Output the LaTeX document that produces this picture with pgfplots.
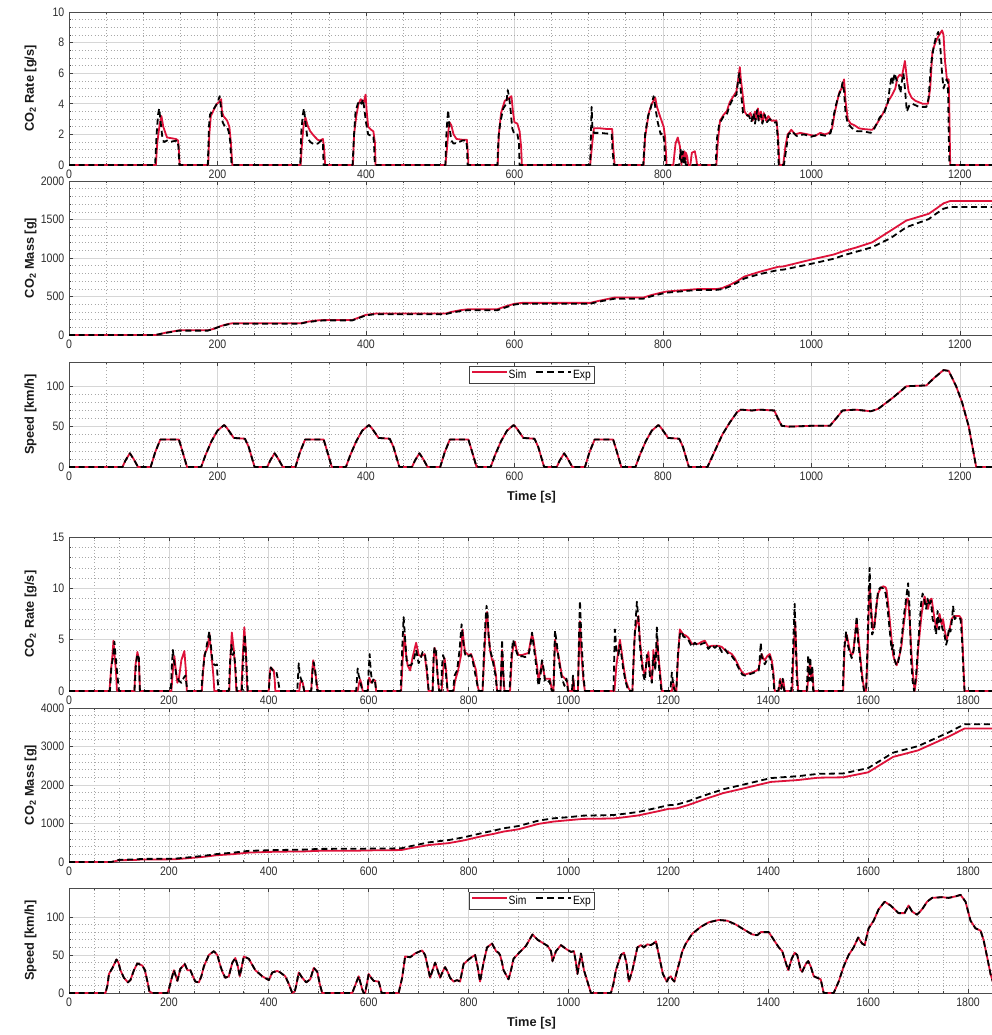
\documentclass[border=0pt]{standalone}
\usepackage{fontspec}
\setmainfont{Liberation Sans}
\newfontfamily\narrow[FakeStretch=0.86]{Liberation Sans}
\usepackage{pgfplots}
\pgfplotsset{compat=1.18}
\definecolor{simred}{RGB}{222,18,58}
\pgfplotsset{
  myax/.style={
    scale only axis, width=693.75pt, xmin=0,
    axis background/.style={fill=white},
    tick align=inside,
    grid=both,
    major grid style={black!16, line width=0.5pt},
    minor grid style={black!34, dotted, line width=0.45pt},
    axis line style={black!70, line width=0.55pt},
    every tick/.style={black!75, line width=0.5pt},
    major tick length=3pt, minor tick length=1.6pt,
    tick label style={font=\narrow\fontsize{9.2}{10}\selectfont, text=black!82},
    /pgf/number format/assume math mode=true,
    /pgf/number format/1000 sep={},
    every axis y label/.style={at={(axis description cs:-0.0415,0.5)}, rotate=90, anchor=center,
      font=\bfseries\fontsize{9.6}{11}\selectfont, text=black!90},
    every axis x label/.style={at={(axis description cs:0.5,0)}, anchor=center, yshift=-22.5pt,
      font=\bfseries\fontsize{9.6}{11}\selectfont, text=black!90},
    legend style={at={(0.5,0.955)}, anchor=north, legend columns=2, draw=black!75,
      font=\narrow\fontsize{9}{10}\selectfont, inner sep=1.5pt, outer sep=0pt,
      nodes={inner sep=0.8pt},
      /tikz/every even column/.append style={column sep=6pt}},
    legend image code/.code={\draw[#1] (0pt,2.6pt) -- (26pt,2.6pt);},
  },
  simline/.style={simred, line width=1.35pt, line join=round,
    legend image post style={simred, line width=1.35pt, solid}},
  expline/.style={black, line width=1.35pt, dash pattern=on 4.5pt off 2.8pt, line join=round,
    legend image post style={black, line width=1.35pt, dash pattern=on 5pt off 3pt}},
  topx/.style={xmax=1246, xtick={0,200,...,1200}, minor x tick num=3},
  botx/.style={xmax=1852, xtick={0,200,...,1800}, minor x tick num=3},
}
\begin{document}
\begin{tikzpicture}
% ================= TOP GROUP =================
\begin{axis}[myax, topx, at={(51.75pt,-9pt)}, anchor=north west, height=114.75pt,
  ymin=0, ymax=10, ytick={0,2,...,10}, minor y tick num=3,
  ylabel={CO\textsubscript{2} Rate [g/s]}]
\addplot[simline] coordinates {(0,0) (117,0) (119,1.5) (122,2.6) (124.5,3.2) (127,2.5) (132,1.8) (138,1.75) (144,1.7) (147,1.6) (148,1.0) (149,0)
(187.5,0) (189,2.0) (191,3.2) (195,3.6) (199,4.0) (202,4.1) (205,4.3) (206,3.5) (208,3.2) (213,2.9) (216,2.5) (218,1.5) (220,0)
(312,0) (314,1.5) (316,2.6) (318.5,3.1) (322,2.5) (325,2.2) (330,1.9) (335,1.65) (338,1.6) (342,1.7) (343.5,1.2) (345,0)
(382.5,0) (384,2.0) (387,3.2) (390,4.0) (393,4.3) (397,4.1) (399.5,4.6) (401,3.5) (403,2.5) (407,2.3) (410,2.2) (412,1.5) (413,0)
(507,0) (509,1.0) (511,2.2) (512.5,2.8) (515,2.6) (518,2.0) (522,1.7) (530,1.65) (536,1.65) (537,1.0) (538,0)
(577.5,0) (579,2.0) (582,3.4) (587,4.2) (591,4.3) (596,4.5) (598,3.5) (600,2.8) (604,2.7) (607,2.2) (609,1.2) (610,0)
(702,0) (705,1.5) (707,2.4) (715,2.4) (725,2.35) (731.7,2.35) (733,1.2) (735,0)
(774,0) (776,1.8) (781,3.4) (785,4.0) (789.7,4.4) (792,3.8) (796,3.2) (801,2.5) (803,1.8) (805,0)
(814,0) (817,1.4) (820,1.8) (823,1.2) (825,0) (826,0.8) (828,0.3) (829,0.9) (830,0.2) (831,0.8) (833,0.5) (834,0) (837,0) (839,0.8) (843,0.9) (845,0.4) (846,0)
(872,0) (874,1.5) (877,2.9) (882,3.3) (886,3.5) (890,4.1) (895,4.5) (899,4.8) (902,5.8) (903.6,6.4) (905,5.6) (907,4.8) (910,3.5) (914,3.2) (918,3.4) (921,2.9) (924,3.5) (926,3.0) (928,3.7) (930,3.0) (932,3.5) (934,2.8) (936,3.4) (939,2.9) (942,3.2) (946,2.9) (953,2.9) (955,2.0) (957,0)
(962,0) (965,1.2) (968,2.0) (973,2.3) (978,2.0) (985,2.1) (995,2.0) (1005,1.9) (1012,2.1) (1018,2.0) (1024,2.1) (1028,2.4) (1031,3.3) (1035,4.2) (1038,4.8) (1041,5.0) (1044,5.6) (1046,4.2) (1049,3.0) (1053,2.7) (1058,2.6) (1064,2.4) (1070,2.35) (1082,2.3) (1087,2.6) (1092,3.0) (1098,3.5) (1104,4.2) (1109,4.6) (1113,5.0) (1116,5.7) (1119,5.9) (1122,5.8) (1124,6.3) (1126,6.8) (1129,5.5) (1131,4.8) (1135,4.4) (1140,4.2) (1150,4.0) (1157,4.0) (1160,5.0) (1163,7.4) (1167,8.0) (1171,8.4) (1176,8.8) (1178,8.5) (1180,6.8) (1182.6,5.6) (1185,5.6) (1186,3.0) (1187,0) (1246,0)};
\addplot[expline] coordinates {(0,0) (116,0) (118,2.0) (120,3.3) (121.5,3.7) (123,3.0) (126,1.7) (128,1.5) (132,1.6) (136,1.5) (140,1.55) (146,1.6) (147.5,1.2) (148.5,0)
(187,0) (188.5,2.5) (190,3.3) (194,3.6) (198,3.9) (201,4.2) (203,4.5) (205,3.6) (207,2.8) (209,2.6) (213,2.5) (215,2.2) (217,1.6) (219,0)
(311.5,0) (313,2.2) (315,3.3) (316.5,3.7) (318.5,2.8) (321,1.8) (325,1.5) (330,1.35) (335,1.4) (340,1.6) (342,1.4) (343,0)
(382,0) (384,2.0) (386,3.5) (389,4.0) (391.5,4.2) (394,4.0) (396,4.3) (398,3.6) (400,2.8) (403,2.0) (407,1.9) (410,1.9) (411,1.2) (412,0)
(507,0) (508.5,2.2) (510.7,3.6) (512.5,2.5) (515,1.6) (518,1.4) (523,1.45) (530,1.6) (535,1.6) (536,1.2) (537,0)
(577,0) (578.5,1.8) (581,2.8) (585,3.7) (589,4.0) (591,4.9) (593,4.4) (595,3.5) (597,2.4) (600,2.0) (604,2.0) (606,1.5) (607,0)
(702,0) (703,1.8) (704,3.8) (705,2.5) (707,2.1) (715,2.1) (725,2.05) (731,2.05) (732,1.0) (734,0)
(773.5,0) (776,2.0) (780,3.2) (784,3.8) (787.5,4.5) (790,3.7) (793,2.8) (797,2.0) (800,2.1) (802,1.5) (803,0)
(822,0) (824,1.0) (825,0.2) (827,0.9) (828,0) (830,0.5) (831,0)
(871,0) (873,1.8) (876,2.7) (882,3.2) (886,3.3) (890,3.9) (895,4.4) (899,4.6) (901,5.4) (903,6.0) (905,4.8) (908,3.4) (912,3.3) (916,3.2) (919,2.8) (922,3.4) (924,2.7) (927,3.6) (929,2.9) (932,3.3) (934,2.7) (937,3.3) (940,2.8) (944,3.0) (950,2.8) (953,2.8) (955,1.5) (956,0)
(963,0) (966,1.0) (969,2.0) (974,2.2) (980,1.9) (990,2.0) (1000,1.85) (1010,2.0) (1020,1.9) (1026,2.1) (1029,3.0) (1033,3.9) (1037,4.6) (1040,4.9) (1042,5.4) (1044,4.8) (1046,3.4) (1049,2.7) (1055,2.4) (1062,2.2) (1070,2.2) (1080,2.1) (1085,2.4) (1092,3.1) (1098,3.4) (1103,4.1) (1106,5.2) (1108,5.8) (1110,5.3) (1112,6.0) (1115,5.5) (1118,5.2) (1120,4.7) (1122,5.5) (1124,6.0) (1126,5.0) (1128.6,3.5) (1132,3.9) (1136,4.0) (1145,3.8) (1155,3.8) (1158,4.4) (1161,6.5) (1165,7.8) (1168,8.4) (1171,8.7) (1174,7.5) (1176,6.0) (1178,5.0) (1180,5.3) (1182,5.6) (1184,5.4) (1185,2.0) (1186,0) (1246,0)};
\end{axis}

\begin{axis}[myax, topx, at={(51.75pt,-135.75pt)}, anchor=north west, height=115.5pt,
  ymin=0, ymax=2000, ytick={0,500,...,2000}, minor y tick num=4,
  ylabel={CO\textsubscript{2} Mass [g]}]
\addplot[simline] coordinates {(0,0) (117,0) (122,10) (130,30) (140,47) (149,61) (187,61) (195,80) (205,118) (215,145) (220,152) (312,152) (320,170) (332,188) (345,196) (382,196) (390,225) (400,262) (413,278) (507,278) (515,300) (527,322) (538,335) (577,335) (590,378) (600,405) (610,417) (702,417) (712,440) (735,487) (774,487) (785,520) (800,555) (805,565) (846,596) (872,596) (880,610) (890,650) (900,700) (910,760) (930,820) (955,885) (962,890) (1000,980) (1030,1045) (1045,1095) (1060,1135) (1082,1204) (1107,1357) (1128,1487) (1158,1574) (1168,1640) (1178,1710) (1187,1740) (1246,1740)};
\addplot[expline] coordinates {(0,0) (116,0) (122,12) (130,28) (140,42) (148,57) (187,57) (195,80) (205,117) (215,140) (219,146) (311,146) (320,165) (332,180) (343,190) (382,190) (390,220) (400,255) (412,270) (507,270) (515,290) (527,310) (537,322) (577,322) (590,365) (600,395) (607,405) (702,405) (712,430) (734,470) (773,470) (785,505) (800,540) (803,548) (846,585) (871,585) (880,595) (890,630) (900,680) (910,735) (930,790) (956,845) (963,850) (1000,925) (1030,990) (1045,1040) (1060,1080) (1082,1140) (1107,1260) (1128,1400) (1158,1505) (1168,1575) (1178,1640) (1186,1662) (1246,1662)};
\end{axis}

\begin{axis}[myax, topx, at={(51.75pt,-271.5pt)}, anchor=north west, height=78.75pt,
  ymin=0, ymax=130, ytick={0,50,100}, minor y tick num=4,
  ylabel={Speed [km/h]}, xlabel={Time [s]}]
\addplot[simline] coordinates {(0,0) (72,0) (76,8) (82,17) (87,10) (93,0) (110,0) (116,18) (123,34) (148,34) (151,25) (159,0) (178,0) (184,15) (192,32) (200,45) (209,52) (213,48) (222,36) (237,35) (242,25) (250,0)
(267,0) (271,8) (277,17) (282,10) (288,0) (305,0) (311,18) (318,34) (343,34) (346,25) (354,0) (373,0) (379,15) (387,32) (395,45) (404,52) (408,48) (417,36) (432,35) (437,25) (445,0)
(462,0) (466,8) (472,17) (477,10) (483,0) (500,0) (506,18) (513,34) (538,34) (541,25) (549,0) (568,0) (574,15) (582,32) (590,45) (599,52) (603,48) (612,36) (627,35) (632,25) (640,0)
(657,0) (661,8) (667,17) (672,10) (678,0) (695,0) (701,18) (708,34) (733,34) (736,25) (744,0) (763,0) (769,15) (777,32) (785,45) (794,52) (798,48) (807,36) (822,35) (827,25) (835,0)
(860,0) (870,20) (880,40) (890,55) (900,68) (905,71) (920,70) (930,71) (950,70) (955,60) (960,51) (970,50) (1000,51) (1025,51) (1035,62) (1042,70) (1060,71) (1080,69) (1090,72) (1110,86) (1128,100) (1155,101) (1165,110) (1178,120) (1185,119) (1195,100) (1203,80) (1212,50) (1222,0) (1246,0)};
\addlegendentry{Sim}
\addplot[expline] coordinates {(0,0) (72,0) (76,8) (82,17) (87,10) (93,0) (110,0) (116,18) (123,34) (148,34) (151,25) (159,0) (178,0) (184,15) (192,32) (200,45) (209,52) (213,48) (222,36) (237,35) (242,25) (250,0)
(267,0) (271,8) (277,17) (282,10) (288,0) (305,0) (311,18) (318,34) (343,34) (346,25) (354,0) (373,0) (379,15) (387,32) (395,45) (404,52) (408,48) (417,36) (432,35) (437,25) (445,0)
(462,0) (466,8) (472,17) (477,10) (483,0) (500,0) (506,18) (513,34) (538,34) (541,25) (549,0) (568,0) (574,15) (582,32) (590,45) (599,52) (603,48) (612,36) (627,35) (632,25) (640,0)
(657,0) (661,8) (667,17) (672,10) (678,0) (695,0) (701,18) (708,34) (733,34) (736,25) (744,0) (763,0) (769,15) (777,32) (785,45) (794,52) (798,48) (807,36) (822,35) (827,25) (835,0)
(860,0) (870,20) (880,40) (890,55) (900,68) (905,71) (920,70) (930,71) (950,70) (955,60) (960,51) (970,50) (1000,51) (1025,51) (1035,62) (1042,70) (1060,71) (1080,69) (1090,72) (1110,86) (1128,100) (1155,101) (1165,110) (1178,120) (1185,119) (1195,100) (1203,80) (1212,50) (1222,0) (1246,0)};
\addlegendentry{Exp}
\end{axis}

% ================= BOTTOM GROUP =================
\begin{axis}[myax, botx, at={(51.75pt,-402.75pt)}, anchor=north west, height=115.5pt,
  ymin=0, ymax=15, ytick={0,5,10,15}, minor y tick num=4,
  ylabel={CO\textsubscript{2} Rate [g/s]}]
\addplot[simline] coordinates {(0,0) (81,0) (84,2.0) (87,3.5) (89,4.9) (92,3.0) (94,2.0) (96,0)
(131,0) (133,2.5) (137,3.8) (140,3.0) (142,0)
(205,0) (208,2.0) (211,3.4) (214,2.0) (217,0.8) (220,1.2) (225,3.0) (231,3.9) (234,2.0) (236,0)
(266,0) (268,1.5) (271,3.5) (278,4.3) (281,5.6) (284,4.0) (287,2.6) (289,1.5) (291,0)
(321,0) (323,3.0) (326,5.7) (330,4.0) (333,2.0) (335,0)
(345,0) (348,3.5) (351,6.2) (354,4.0) (357,0)
(400,0) (402,1.8) (404,2.3) (410,2.0) (412,1.0) (413,0)
(461,0) (463,0.8) (465,1.0) (468,0.8) (471,0)
(485,0) (487,2.0) (489,3.0) (492,2.0) (494,1.5) (498,0)
(578,0) (581,0.8) (583,1.1) (586,0.6) (588,0)
(598,0) (600,1.0) (601,1.3) (605,0.8) (610,1.1) (613,1.0) (615,0)
(665,0) (668,3.0) (672,5.5) (675,3.5) (678,2.5) (683,2.0) (688,3.3) (695,4.7) (700,3.5) (705,3.4) (712,3.6) (716,2.0) (720,0)
(728,0) (730,3.0) (732,4.2) (735,3.5) (738,1.5) (741,0)
(746,0) (749,2.0) (752,3.2) (755,2.0) (758,0)
(770,0) (773,1.0) (779,2.0) (785,3.5) (788,6.0) (791,4.5) (793,3.8) (800,3.5) (805,3.6) (808,3.2) (812,2.5) (815,2.0) (818,0.5) (821,0)
(828,0) (831,3.0) (835,6.8) (837,7.7) (840,5.5) (843,4.0) (847,3.0) (850,3.0) (855,1.5) (857,0)
(864,0) (867,4.0) (869,2.0) (872,0)
(883,0) (887,3.5) (890,4.5) (893,4.8) (896,4.0) (900,3.5) (907,3.5) (913,3.6) (920,3.7) (924,4.8) (927,5.5) (930,5.0) (934,3.5) (937,2.5) (940,1.0) (944,2.0) (947,2.8) (950,2.0) (953,1.2) (958,1.2) (963,1.2) (965,0.6) (967,0)
(970,0) (973,5.0) (977,4.0) (980,3.5) (984,2.3) (987,1.5) (993,1.2) (997,1.0) (1000,0)
(1008,0) (1010,1.2) (1012,0)
(1019,0) (1021,4.0) (1023,6.8) (1026,3.5) (1030,1.0) (1033,0)
(1092,0) (1096,2.5) (1100,4.0) (1103,5.0) (1106,4.0) (1110,2.5) (1115,1.0) (1120,0.3) (1124,0)
(1128,0) (1131,3.5) (1133,5.8) (1136,6.5) (1140,7.3) (1143,5.0) (1147,3.0) (1150,2.0) (1153,1.5) (1157,3.0) (1160,3.8) (1163,2.0) (1167,1.0) (1169,2.5) (1170,4.0) (1173,2.5) (1176,4.0) (1178,5.0) (1180,3.5) (1183,2.0) (1187,0)
(1207,0) (1210,0.8) (1213,0)
(1216,0) (1219,3.0) (1223,6.0) (1227,5.7) (1230,5.5) (1235,5.4) (1240,5.2) (1247,4.6) (1253,4.6) (1260,4.6) (1267,4.8) (1273,4.9) (1280,4.3) (1287,4.4) (1293,4.4) (1300,4.4) (1307,4.3) (1313,4.0) (1320,3.8) (1327,3.6) (1333,3.2) (1338,2.7) (1343,2.2) (1348,1.8) (1353,1.6) (1360,1.7) (1367,1.8) (1372,1.9) (1377,2.0) (1381,2.2) (1384,3.0) (1387,3.6) (1390,3.2) (1393,3.0) (1398,3.4) (1403,3.6) (1407,3.0) (1410,2.0) (1413,0)
(1421,0) (1424,1.2) (1427,0.3) (1430,1.1) (1433,0)
(1448,0) (1450,3.0) (1452,5.0) (1454,6.8) (1456,4.0) (1458,1.5) (1460,0)
(1478,0) (1481,2.0) (1484,2.8) (1486,1.2) (1488,2.2) (1491,0)
(1550,0) (1553,4.5) (1557,5.5) (1560,4.8) (1563,4.0) (1567,3.5) (1570,3.7) (1574,5.5) (1577,6.8) (1580,5.5) (1583,4.0) (1587,2.0) (1590,0.8) (1593,0)
(1596,0) (1599,4.0) (1601,7.5) (1603,10.3) (1606,8.0) (1610,6.0) (1613,6.5) (1617,8.5) (1620,9.5) (1625,10.0) (1630,10.2) (1635,10.1) (1637,9.8) (1640,8.5) (1643,7.0) (1647,5.0) (1650,3.5) (1653,3.0) (1657,2.5) (1660,3.0) (1663,3.5) (1667,4.5) (1670,6.0) (1674,7.5) (1677,9.0) (1680,9.0) (1683,7.0) (1687,3.5) (1690,1.5) (1693,0) (1696,1.0) (1700,4.0) (1703,5.5) (1707,7.5) (1710,8.5) (1713,9.2) (1717,8.5) (1720,8.0) (1723,8.8) (1727,9.0) (1730,8.0) (1733,7.0) (1737,6.0) (1740,7.0) (1743,7.5) (1747,6.5) (1750,7.0) (1753,6.0) (1757,5.0) (1760,5.5) (1763,6.0) (1767,7.0) (1770,7.2) (1773,7.3) (1777,7.3) (1780,7.3) (1783,7.3) (1787,7.0) (1790,3.5) (1793,0) (1852,0)};
\addplot[expline] coordinates {(0,0) (82,0) (85,2.5) (88,3.2) (91,4.8) (93,3.5) (95,2.5) (97,1.5) (100,0)
(131,0) (134,2.5) (137,3.6) (140,3.2) (142,0)
(204,0) (206,2.5) (208,4.0) (210,3.0) (212,2.5) (215,1.5) (220,1.0) (225,0.8) (230,1.3) (233,1.5) (237,0)
(265,0) (268,2.0) (272,3.5) (276,4.5) (281,5.8) (284,4.5) (287,3.0) (290,2.6) (293,2.5) (296,2.6) (299,0)
(320,0) (322,2.5) (325,4.5) (328,3.5) (330,3.8) (333,2.5) (336,0)
(346,0) (349,3.5) (352,5.5) (355,3.0) (358,0)
(400,0) (402,1.5) (404,2.3) (408,2.0) (415,1.9) (418,1.2) (422,0)
(457,0) (459,1.8) (460,2.7) (462,1.5) (466,1.0) (469,0.5) (471,0)
(485,0) (488,2.2) (490,2.8) (493,2.0) (497,0)
(575,0) (577,1.5) (578,2.2) (580,1.5) (582,1.2) (585,0.5) (588,0)
(598,0) (600,2.0) (602,3.6) (604,2.0) (607,0.8) (610,1.2) (613,0.8) (615,0)
(664,0) (667,4.0) (670,7.2) (673,5.0) (676,3.0) (680,2.5) (685,2.5) (690,3.0) (695,4.0) (700,2.7) (704,3.2) (708,3.8) (713,3.5) (717,2.0) (720,0)
(728,0) (730,3.5) (732,4.3) (735,3.8) (738,1.5) (741,0)
(745,0) (747,2.5) (749,3.5) (752,3.0) (755,1.5) (758,0)
(769,0) (772,1.5) (777,2.0) (782,4.0) (786,6.5) (789,5.0) (792,3.8) (795,3.3) (800,3.4) (805,3.5) (808,3.0) (812,2.0) (816,1.0) (820,0)
(828,0) (831,4.0) (834,7.0) (836,8.3) (838,7.5) (840,5.5) (843,4.0) (847,3.3) (850,2.5) (854,1.5) (857,0)
(864,0) (866,3.0) (867,5.0) (869,2.5) (871,0)
(882,0) (886,3.5) (889,5.0) (892,4.5) (896,3.8) (900,3.3) (907,3.4) (913,3.3) (920,3.5) (924,4.5) (927,5.7) (930,4.5) (934,3.0) (937,1.8) (940,0.5) (944,1.5) (947,3.0) (950,2.2) (953,1.0) (958,0.8) (962,1.0) (965,0.3) (967,0)
(970,0) (973,5.9) (977,4.5) (980,3.2) (984,2.0) (987,1.2) (992,0.5) (996,1.2) (999,0)
(1007,0) (1009,1.5) (1011,0)
(1019,0) (1021,5.0) (1023,8.8) (1026,5.0) (1030,1.5) (1033,0)
(1090,0) (1093,6.0) (1096,4.0) (1100,3.5) (1103,4.5) (1106,3.5) (1110,2.0) (1115,0.8) (1120,0)
(1128,0) (1131,4.0) (1134,6.5) (1137,8.7) (1140,7.0) (1143,4.5) (1147,2.5) (1150,1.5) (1153,1.0) (1157,3.5) (1160,3.2) (1163,1.5) (1167,0.8) (1169,3.0) (1171,3.5) (1174,2.0) (1177,6.2) (1180,3.0) (1183,1.5) (1186,0)
(1204,0) (1207,1.8) (1210,0.5) (1213,0)
(1216,0) (1219,3.5) (1223,5.5) (1227,5.8) (1230,5.3) (1235,5.2) (1240,5.0) (1247,4.3) (1253,4.7) (1260,4.4) (1267,4.6) (1273,4.7) (1280,4.1) (1287,4.5) (1293,4.2) (1300,4.5) (1307,3.8) (1313,4.1) (1320,3.6) (1327,3.4) (1333,3.0) (1338,2.5) (1343,2.0) (1348,1.6) (1353,1.5) (1360,1.6) (1367,1.7) (1372,1.8) (1377,1.9) (1381,2.0) (1383,3.2) (1385,4.7) (1387,3.3) (1390,3.0) (1393,2.6) (1398,3.1) (1403,3.4) (1407,2.5) (1410,1.5) (1412,0)
(1420,0) (1423,1.0) (1426,0.2) (1429,1.2) (1432,0)
(1446,0) (1449,3.0) (1451,6.0) (1453,8.5) (1455,5.0) (1457,1.5) (1459,0)
(1477,0) (1480,3.5) (1482,1.0) (1484,3.3) (1486,1.0) (1488,2.5) (1490,0)
(1549,0) (1552,4.0) (1556,5.8) (1559,4.5) (1563,3.8) (1567,3.2) (1571,4.0) (1575,6.0) (1577,7.3) (1580,4.8) (1583,3.5) (1587,1.5) (1590,0.5) (1592,0)
(1596,0) (1599,5.0) (1601,9.5) (1603,12.0) (1605,8.5) (1608,5.5) (1612,6.0) (1616,8.0) (1620,9.8) (1625,10.1) (1630,10.0) (1635,9.5) (1638,8.5) (1641,7.0) (1644,5.5) (1647,4.0) (1650,4.5) (1653,3.0) (1657,2.5) (1660,2.8) (1664,3.8) (1668,5.5) (1672,7.5) (1676,9.0) (1680,10.5) (1683,8.0) (1686,3.0) (1689,1.0) (1692,0) (1696,1.5) (1700,4.5) (1703,6.5) (1706,8.5) (1709,9.5) (1712,9.0) (1716,8.0) (1719,9.0) (1722,8.3) (1726,8.8) (1729,7.0) (1733,6.5) (1736,5.5) (1739,7.8) (1742,6.0) (1745,7.0) (1749,6.0) (1752,5.8) (1756,4.5) (1759,5.0) (1762,6.2) (1765,5.8) (1768,7.0) (1770,8.3) (1773,7.0) (1777,7.2) (1781,7.2) (1785,7.0) (1788,5.0) (1791,1.5) (1793,0) (1852,0)};
\end{axis}

\begin{axis}[myax, botx, at={(51.75pt,-531pt)}, anchor=north west, height=115.5pt,
  ymin=0, ymax=4000, ytick={0,1000,...,4000}, minor y tick num=4,
  ylabel={CO\textsubscript{2} Mass [g]}]
\addplot[simline] coordinates {(0,0) (85,0) (100,45) (135,55) (145,65) (210,70) (235,95) (270,135) (295,175) (330,205) (360,245) (400,262) (420,268) (470,275) (500,290) (580,295) (615,305) (665,310) (680,350) (720,440) (760,490) (790,560) (810,620) (830,680) (850,730) (870,790) (900,850) (920,920) (940,990) (970,1050) (1000,1086) (1030,1120) (1090,1130) (1110,1160) (1140,1210) (1180,1320) (1200,1380) (1216,1390) (1240,1480) (1270,1620) (1310,1790) (1350,1910) (1405,2080) (1460,2130) (1500,2190) (1550,2200) (1600,2330) (1650,2730) (1700,2900) (1760,3250) (1793,3466) (1852,3466)};
\addplot[expline] coordinates {(0,0) (85,0) (100,55) (135,68) (145,80) (210,85) (235,115) (270,160) (295,205) (330,245) (360,290) (400,305) (420,312) (470,322) (500,340) (580,345) (615,350) (665,355) (680,400) (720,510) (760,570) (790,640) (810,700) (830,760) (850,815) (870,875) (900,935) (920,1005) (940,1075) (970,1135) (1000,1164) (1030,1205) (1090,1220) (1110,1250) (1140,1300) (1180,1415) (1200,1475) (1216,1488) (1240,1580) (1270,1720) (1310,1890) (1350,2010) (1405,2180) (1460,2230) (1500,2290) (1550,2300) (1600,2440) (1650,2840) (1700,3010) (1760,3360) (1793,3578) (1852,3578)};
\end{axis}

\begin{axis}[myax, botx, at={(51.75pt,-666pt)}, anchor=north west, height=78.75pt,
  ymin=0, ymax=138, ytick={0,50,100}, minor y tick num=4,
  ylabel={Speed [km/h]}, xlabel={Time [s]}]
\addplot[simline] coordinates {(0,0) (73,0) (77,10) (80,25) (87,33) (95,44) (99,40) (103,30) (110,20) (118,14) (123,17) (130,30) (137,39) (147,36) (152,30) (158,12) (161,2) (167,0) (197,0) (200,5) (205,18) (210,30) (217,16) (223,32) (232,38) (237,30) (243,30) (248,22) (253,15) (260,14) (265,22) (270,35) (280,50) (290,55) (297,50) (302,38) (307,28) (313,20) (320,22) (327,40) (333,46) (338,35) (342,22) (346,35) (350,48) (360,45) (366,38) (373,30) (380,26) (387,22) (400,17) (407,27) (417,29) (423,27) (433,22) (440,12) (447,0) (452,2) (455,10) (460,27) (467,20) (475,14) (483,18) (490,33) (497,28) (502,12) (507,0) (567,0) (573,10) (580,22) (587,5) (590,0) (593,0) (600,25) (605,20) (610,16) (620,15) (623,8) (626,0) (660,0) (667,20) (673,48) (683,47) (693,52) (707,56) (713,50) (718,35) (723,20) (728,30) (733,40) (738,30) (743,20) (748,28) (753,34) (758,28) (763,20) (770,15) (777,17) (783,15) (790,38) (800,44) (806,47) (813,50) (818,35) (823,15) (830,40) (837,60) (847,65) (855,55) (860,53) (863,50) (867,40) (870,30) (880,18) (885,30) (890,45) (900,52) (915,62) (928,77) (938,70) (948,66) (958,62) (965,55) (968,42) (975,55) (985,63) (995,58) (1005,54) (1011,55) (1015,40) (1018,25) (1025,52) (1031,30) (1038,15) (1045,0) (1085,0) (1090,12) (1095,30) (1105,50) (1111,53) (1116,40) (1121,15) (1128,30) (1133,45) (1138,60) (1145,63) (1151,60) (1158,64) (1165,63) (1170,65) (1175,68) (1181,50) (1189,25) (1197,15) (1201,20) (1205,22) (1208,18) (1212,15) (1217,28) (1222,40) (1228,55) (1235,65) (1248,78) (1265,87) (1281,93) (1301,96) (1318,95) (1335,90) (1355,82) (1368,77) (1378,76) (1385,80) (1401,80) (1411,70) (1421,60) (1428,55) (1435,40) (1440,30) (1447,45) (1453,53) (1458,50) (1465,30) (1468,28) (1475,38) (1480,42) (1485,35) (1491,22) (1498,20) (1505,18) (1511,0) (1531,0) (1541,15) (1551,35) (1561,50) (1571,60) (1580,73) (1588,65) (1593,63) (1601,85) (1611,95) (1621,110) (1633,120) (1645,115) (1661,105) (1673,105) (1681,115) (1688,107) (1698,103) (1708,110) (1718,120) (1728,125) (1748,126) (1761,125) (1775,127) (1785,129) (1795,120) (1805,95) (1815,85) (1825,82) (1831,70) (1838,48) (1845,25) (1852,10)};
\addlegendentry{Sim}
\addplot[expline] coordinates {(0,0) (73,0) (77,10) (80,25) (87,33) (95,44) (99,40) (103,30) (110,20) (118,14) (123,17) (130,30) (137,39) (147,36) (152,30) (158,12) (161,2) (167,0) (197,0) (200,5) (205,18) (210,30) (217,16) (223,32) (232,38) (237,30) (243,30) (248,22) (253,15) (260,14) (265,22) (270,35) (280,50) (290,55) (297,50) (302,38) (307,28) (313,20) (320,22) (327,40) (333,46) (338,35) (342,22) (346,35) (350,48) (360,45) (366,38) (373,30) (380,26) (387,22) (400,17) (407,27) (417,29) (423,27) (433,22) (440,12) (447,0) (452,2) (455,10) (460,27) (467,20) (475,14) (483,18) (490,33) (497,28) (502,12) (507,0) (567,0) (573,10) (580,22) (587,5) (590,0) (593,0) (600,25) (605,20) (610,16) (620,15) (623,8) (626,0) (660,0) (667,20) (673,48) (683,47) (693,52) (707,56) (713,50) (718,35) (723,20) (728,30) (733,40) (738,30) (743,20) (748,28) (753,34) (758,28) (763,20) (770,15) (777,17) (783,15) (790,38) (800,44) (806,47) (813,50) (818,35) (823,15) (830,40) (837,60) (847,65) (855,55) (860,53) (863,50) (867,40) (870,30) (880,18) (885,30) (890,45) (900,52) (915,62) (928,77) (938,70) (948,66) (958,62) (965,55) (968,42) (975,55) (985,63) (995,58) (1005,54) (1011,55) (1015,40) (1018,25) (1025,52) (1031,30) (1038,15) (1045,0) (1085,0) (1090,12) (1095,30) (1105,50) (1111,53) (1116,40) (1121,15) (1128,30) (1133,45) (1138,60) (1145,63) (1151,60) (1158,64) (1165,63) (1170,65) (1175,68) (1181,50) (1189,25) (1197,15) (1201,20) (1205,22) (1208,18) (1212,15) (1217,28) (1222,40) (1228,55) (1235,65) (1248,78) (1265,87) (1281,93) (1301,96) (1318,95) (1335,90) (1355,82) (1368,77) (1378,76) (1385,80) (1401,80) (1411,70) (1421,60) (1428,55) (1435,40) (1440,30) (1447,45) (1453,53) (1458,50) (1465,30) (1468,28) (1475,38) (1480,42) (1485,35) (1491,22) (1498,20) (1505,18) (1511,0) (1531,0) (1541,15) (1551,35) (1561,50) (1571,60) (1580,73) (1588,65) (1593,63) (1601,85) (1611,95) (1621,110) (1633,120) (1645,115) (1661,105) (1673,105) (1681,115) (1688,107) (1698,103) (1708,110) (1718,120) (1728,125) (1748,126) (1761,125) (1775,127) (1785,129) (1795,120) (1805,95) (1815,85) (1825,82) (1831,70) (1838,48) (1845,25) (1852,10)};
\addlegendentry{Exp}
\end{axis}
\pgfresetboundingbox
\path[use as bounding box] (0pt,0pt) rectangle (744pt,-776.25pt);
\end{tikzpicture}
\end{document}
